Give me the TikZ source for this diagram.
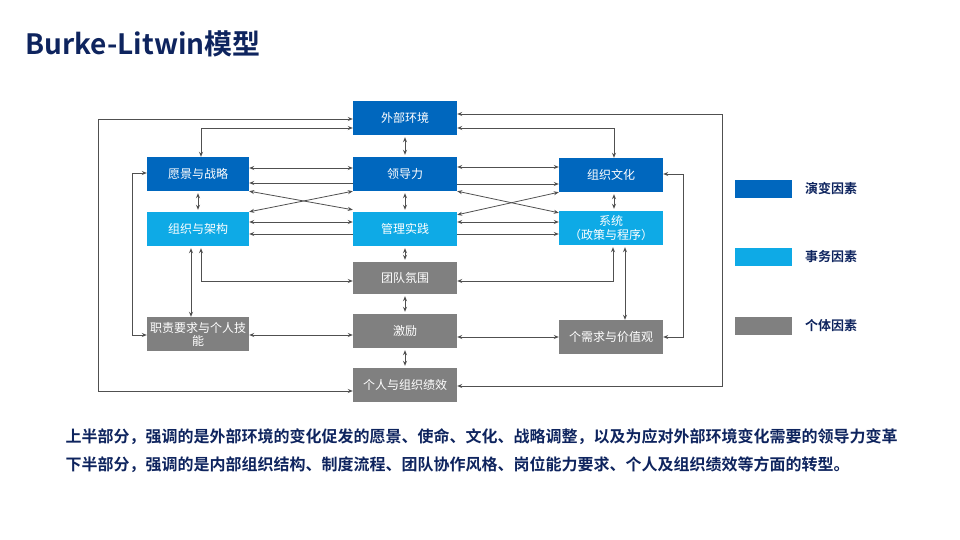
\documentclass[tikz,border=0pt]{standalone}
\usepackage{fontspec}
\setmainfont{Noto Sans CJK SC}[BoldFont={Noto Sans CJK SC Bold}]
\usepackage{tikz}
\usetikzlibrary{arrows.meta,positioning,calc}
\definecolor{evoblue}{RGB}{0,103,190}
\definecolor{tranblue}{RGB}{14,170,230}
\definecolor{indgray}{RGB}{128,128,128}
\definecolor{linkgray}{RGB}{80,80,80}
\definecolor{navytext}{RGB}{14,36,94}

\begin{document}
\begin{tikzpicture}[
      x=1pt, y=-1pt,
      >={Stealth[length=5pt,width=4pt]},
      factor/.style={rectangle, minimum width=104pt, minimum height=34pt,
        inner sep=0pt, align=center, text=white,
        font=\fontsize{12}{14}\selectfont},
      evo/.style={factor, fill=evoblue},
      tran/.style={factor, fill=tranblue},
      indiv/.style={factor, fill=indgray},
      link/.style={draw=linkgray, line width=0.8pt},
      legbox/.style={rectangle, minimum width=57pt, minimum height=18pt, inner sep=0pt},
      legtext/.style={font=\fontsize{13}{15}\selectfont\bfseries, text=navytext},
  ]
      \useasboundingbox (0,0) rectangle (960,540);

      % Title
      \node[anchor=west, font=\fontsize{28}{32}\selectfont\bfseries, text=navytext]
          (title) at (22,44) {Burke-Litwin模型};

      % Center column
      \node[evo] (env) at (405,118) {外部环境};
      \node[evo] (lead) at (405,174) {领导力};
      \node[tran] (mgmt) at (405,229) {管理实践};
      \node[indiv, minimum height=32pt] (climate) at (405,278) {团队氛围};
      \node[indiv] (motiv) at (405,331) {激励};
      \node[indiv] (perf) at (405,385) {个人与组织绩效};

      % Left column
      \node[evo, minimum width=102pt] (vision) at (198,174) {愿景与战略};
      \node[tran, minimum width=102pt] (struct) at (198,229) {组织与架构};
      \node[indiv, minimum width=102pt, font=\fontsize{12}{13}\selectfont] (skills) at (198,334) {职责要求与个人技\\能};

      % Right column
      \node[evo] (culture) at (611,175) {组织文化};
      \node[tran] (systems) at (611,228) {系统\\（政策与程序）};
      \node[indiv] (needs) at (611,337) {个需求与价值观};

      % Rails
      \coordinate (lrail) at (98,0);
      \coordinate (rrail) at (722,0);

      % Vertical links, center
      \foreach \a/\b in {env/lead,lead/mgmt,mgmt/climate,climate/motiv,motiv/perf}
          \draw[link, <->, shorten <=2pt, shorten >=2pt] (\a.south) -- (\b.north);
      \draw[link, <->, shorten <=2pt, shorten >=2pt] (vision.south) -- (struct.north);
      \draw[link, <->, shorten <=2pt, shorten >=2pt] ([xshift=3pt]culture.south) -- ([xshift=3pt]systems.north);

      % Outer loops
      \draw[link, <->] ([yshift=-1pt]env.west) -- ([yshift=-1pt]env.west -| lrail)
          |- ([yshift=-6pt]perf.west);
      \draw[link, <->] ([yshift=-10pt]env.west) -| ([xshift=3pt]vision.north);
      \draw[link, <->] ([yshift=1pt]vision.west) -- ++(-14,0) |- ([yshift=-1pt]skills.west);
      \draw[link, <->] ([yshift=4pt]env.east) -- ([yshift=4pt]env.east -| rrail)
          |- ([yshift=-1pt]perf.east);
      \draw[link, <->] ([yshift=-10pt]env.east) -| ([xshift=3pt]culture.north);
      \draw[link, <->] ([yshift=1pt]culture.east) -- ++(20,0) |- (needs.east);

      % Left block links
      \draw[link, <->] ([yshift=6pt]vision.east) -- ([yshift=6pt]vision.east -| lead.west);
      \draw[link, ->] ([yshift=-9pt]lead.west) -- ([yshift=-9pt]lead.west -| vision.east);
      \draw[link, <->] (vision.south east) -- ([yshift=2pt]mgmt.north west);
      \draw[link, <->] (struct.north east) -- (lead.south west);
      \draw[link, <->] ([yshift=7pt]struct.east) -- ([yshift=7pt]struct.east -| mgmt.west);
      \draw[link, ->] ([yshift=-5pt]mgmt.west) -- ([yshift=-5pt]mgmt.west -| struct.east);

      % Right block links
      \draw[link, <->] ([yshift=7pt]lead.east) -- ([yshift=7pt]lead.east -| culture.west);
      \draw[link, ->] ([yshift=-10pt]lead.east) -- ([yshift=-10pt]lead.east -| culture.west);
      \draw[link, <->] (lead.south east) -- ([yshift=-2pt]systems.north west);
      \draw[link, <->] ([yshift=-3pt]mgmt.north east) -- (culture.south west);
      \draw[link, <->] ([yshift=7pt]mgmt.east) -- ([yshift=7pt]mgmt.east -| systems.west);
      \draw[link, ->] ([yshift=-5pt]mgmt.east) -- ([yshift=-5pt]mgmt.east -| systems.west);

      % Lower links
      \draw[link, <->, shorten <=2pt] ([xshift=-7pt]struct.south) -- ([xshift=-7pt]skills.north);
      \draw[link, <->, shorten <=2pt] ([xshift=3pt]struct.south) |- ([yshift=-3pt]climate.west);
      \draw[link, <->, shorten <=2pt] ([xshift=2pt]systems.south) |- ([yshift=-3pt]climate.east);
      \draw[link, <->, shorten <=2pt] ([xshift=14pt]systems.south) -- ([xshift=14pt]needs.north);
      \draw[link, <->] ([yshift=-1pt]skills.east) -- ([yshift=-1pt]skills.east -| motiv.west);
      \draw[link, <->] (needs.west -| motiv.east) -- (needs.west);

      % Legend
      \node[legbox, fill=evoblue] (leg1) at (763,189) {};
      \node[legbox, fill=tranblue] (leg2) at (763,257) {};
      \node[legbox, fill=indgray] (leg3) at (763,326) {};
      \node[legtext, right=10pt of leg1] (legt1) {演变因素};
      \node[legtext, right=10pt of leg2] (legt2) {事务因素};
      \node[legtext, right=10pt of leg3] (legt3) {个体因素};

      % Summary
      \node[anchor=west, font=\fontsize{16}{18}\selectfont\bfseries, text=navytext]
          (sum1) at (62,437) {上半部分，强调的是外部环境的变化促发的愿景、使命、文化、战略调整，以及为应对外部环境变化需要的领导力变革};
      \node[anchor=west, font=\fontsize{16}{18}\selectfont\bfseries, text=navytext]
          (sum2) at (62,465) {下半部分，强调的是内部组织结构、制度流程、团队协作风格、岗位能力要求、个人及组织绩效等方面的转型。};

  \end{tikzpicture}
\end{document}
